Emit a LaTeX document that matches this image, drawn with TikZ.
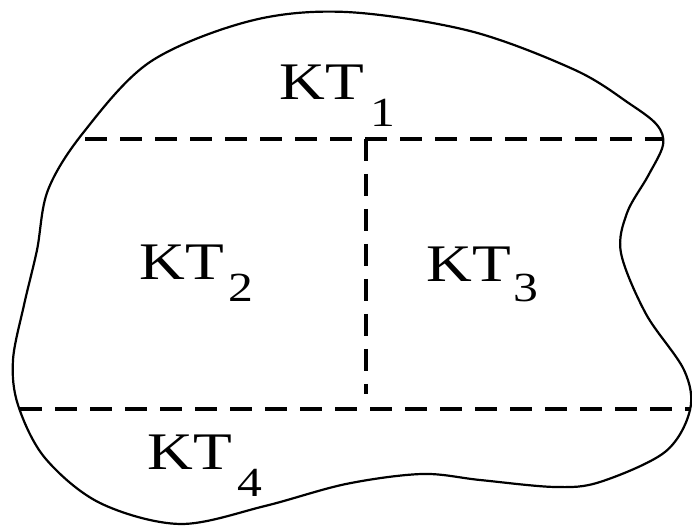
\documentclass[tikz,border=0pt]{standalone}
\usepackage{fontspec}
\newfontfamily\ktfont[FakeStretch=1.2]{Liberation Serif}
\newcommand\ktlabel[3]{KT\hspace{#1}\raisebox{-#2}{\fontsize{20.7}{24}\selectfont #3}}
\begin{document}
\begin{tikzpicture}[x=0.5pt, y=-0.5pt, line cap=round, line join=round,
    border/.style={line width=1.1pt},
    cut/.style={line width=2pt, line cap=butt, dash pattern=on 11pt off 6.5pt},
    region/.style={anchor=base west, inner sep=0pt, font=\ktfont\fontsize{26.4}{30}\selectfont}]
  \useasboundingbox (0,0) rectangle (692,528);
  % outline of the domain
  \draw[border] plot[smooth cycle, tension=0.55] coordinates {
    (83,133) (150,62) (250,21) (346,12) (470,31) (575,70) (630,104)
    (657,125) (663,145) (648,176) (627,213) (621,253) (646,314) (684,370)
    (690,410) (665,452) (600,482) (555,487) (480,480) (422,474) (346,484)
    (265,506) (180,524) (100,503) (45,458) (18,405) (13,360)
    (24,305) (37,250) (48,190)};
  % cut lines
  \coordinate (tl) at (85,139);
  \coordinate (tr) at (663,139);
  \coordinate (bl) at (20,409);
  \coordinate (br) at (691,409);
  \coordinate (mt) at (366,139);
  \coordinate (mb) at (366,394);
  \draw[cut] (tl) -- (tr);
  \draw[cut] (mt) -- (mb);
  \draw[cut] (bl) -- (br);
  % region labels
  \node[region] (kt1) at (279,100) {\ktlabel{3.5pt}{13.5pt}{1}};
  \node[region] (kt2) at (139,280) {\ktlabel{2.5pt}{11pt}{2}};
  \node[region] (kt3) at (426,282) {\ktlabel{1.5pt}{10pt}{3}};
  \node[region] (kt4) at (147,470) {\ktlabel{3pt}{13.5pt}{4}};
\end{tikzpicture}
\end{document}
